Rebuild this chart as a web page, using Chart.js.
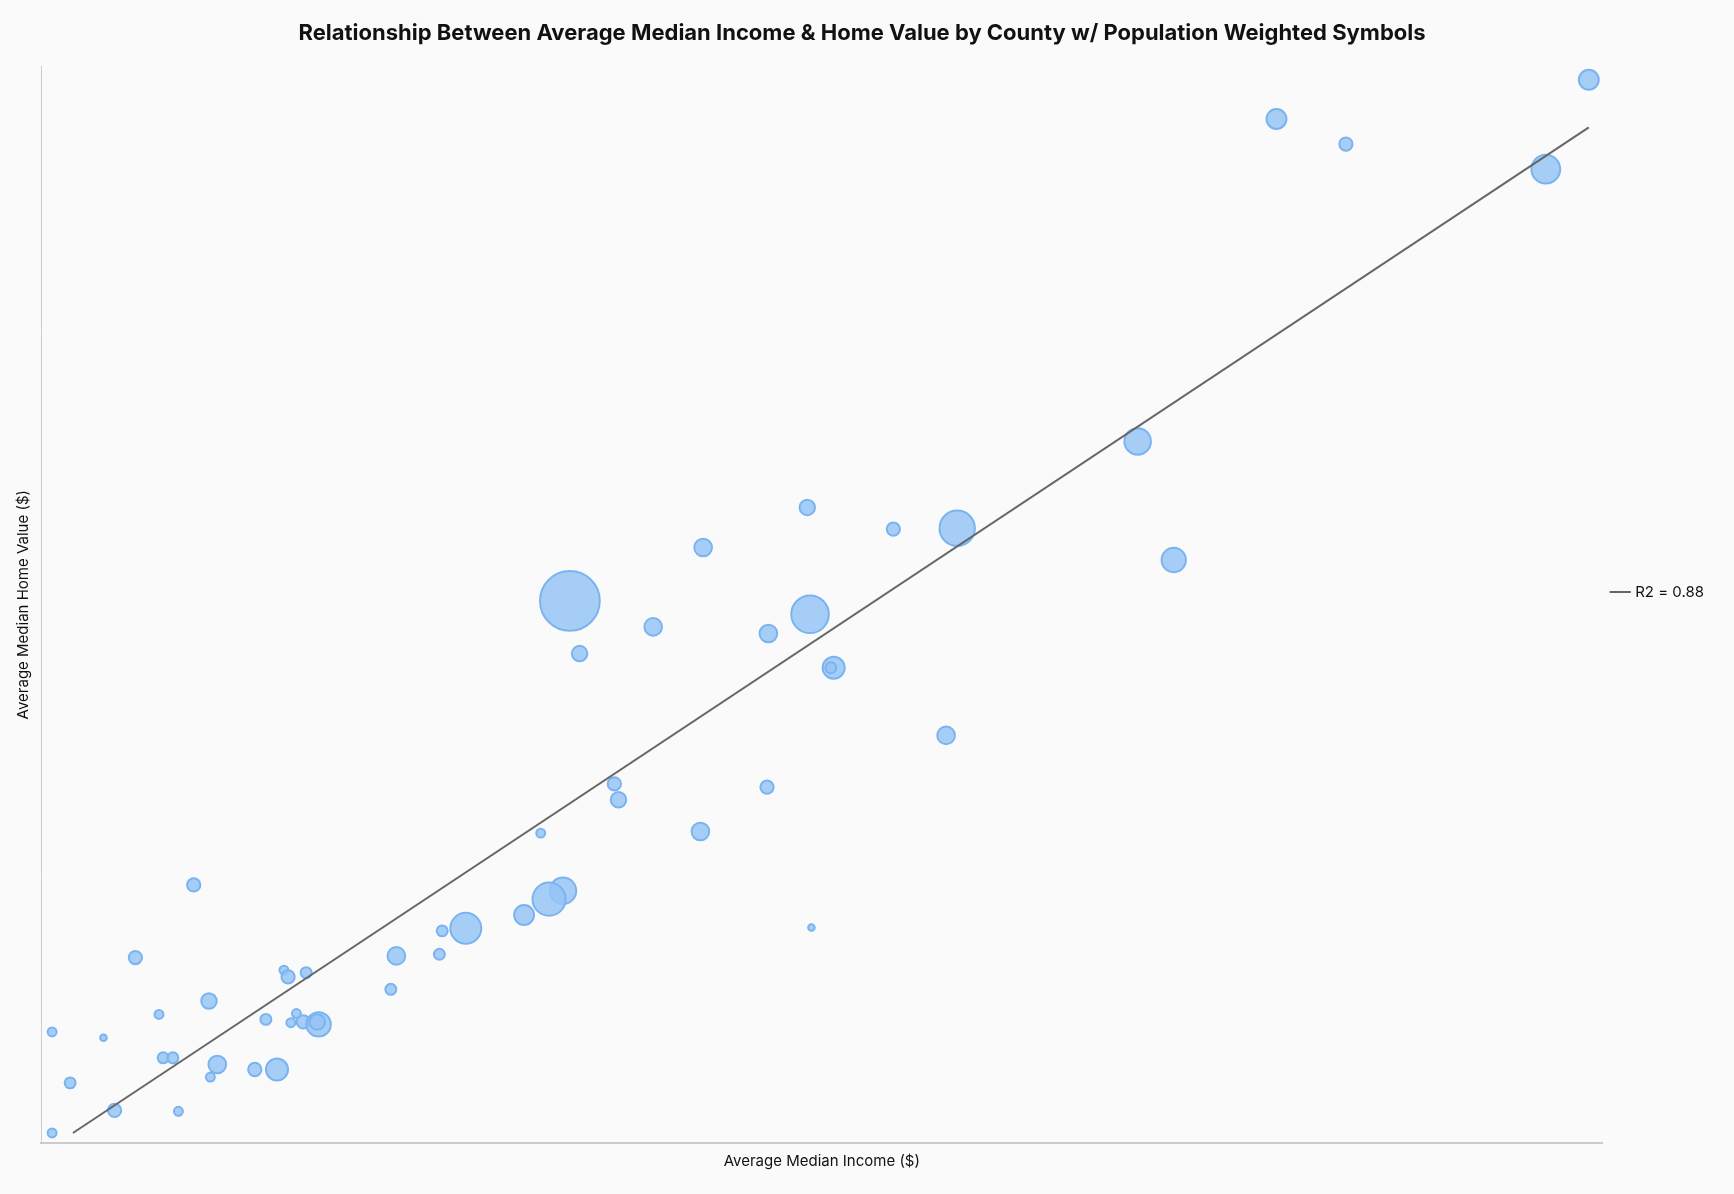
<!DOCTYPE html>
<html>
<head>
<meta charset="utf-8">
<script src="https://cdn.jsdelivr.net/npm/chart.js@4"></script>
<style>
  body { margin: 0; background: #fafafa; }
  #wrap { width: 1734px; height: 1194px; }
</style>
</head>
<body>
<div id="wrap"><canvas id="chart"></canvas></div>
<script>
// county averages
const income = [167000, 144500, 149500, 163900, 134500, 137100, 121500, 116900, 110700, 103200,
  93600, 110900, 99600, 107900, 94300, 112600, 112400, 120700, 96800, 97100,
  107800, 103000, 91500, 93100, 92100, 90300, 86100, 84400, 84200, 111000,
  81100, 80700, 66500, 62300, 67600, 73000, 73300, 74600, 64000, 73900,
  71700, 73500, 74400, 75500, 75400, 56300, 60000, 64300, 65000, 68200,
  70900, 72500, 67700, 57600, 60800, 65400, 56300];
const homeValue = [1482000, 1435000, 1405000, 1375000, 1049000, 907000, 945000, 944000, 970000, 922000,
  858000, 842000, 827000, 819000, 795000, 778000, 778000, 697000, 639000, 620000,
  635000, 582000, 580000, 511000, 501000, 482000, 466000, 463000, 435000, 467000,
  433000, 393000, 518000, 431000, 379000, 416000, 408000, 413000, 363000, 364000,
  357000, 353000, 354000, 351000, 354000, 342000, 335000, 311000, 311000, 303000,
  297000, 297000, 288000, 281000, 248000, 247000, 221000];
// population in thousands (symbol area)
const population = [99, 99, 44, 207, 176, 148, 313, 44, 60, 78,
  892, 353, 78, 78, 60, 122, 30, 78, 44, 60,
  44, 78, 20, 176, 275, 99, 240, 30, 30, 11,
  78, 30, 44, 44, 60, 20, 44, 30, 20, 20,
  30, 20, 44, 148, 60, 20, 11, 30, 30, 78,
  44, 122, 20, 30, 44, 20, 20];
const trendIncome = [57800, 167000];
const trendValue = [221000, 1425000];
const trendLabel = 'R2 = 0.88';

const bubbles = income.map((x, i) => ({ x: x, y: homeValue[i], r: Math.sqrt(population[i]) }));
const trend = trendIncome.map((x, i) => ({ x: x, y: trendValue[i] }));

const font = "'Inter', 'Liberation Sans', sans-serif";

new Chart(document.getElementById('chart'), {
  type: 'bubble',
  data: {
    datasets: [
      {
        type: 'line',
        label: trendLabel,
        data: trend,
        borderColor: '#666',
        borderWidth: 2,
        pointRadius: 0,
        fill: false
      },
      {
        label: 'Counties',
        data: bubbles,
        backgroundColor: 'rgba(150,196,245,0.85)',
        borderColor: 'rgba(122,180,240,1)',
        borderWidth: 2
      }
    ]
  },
  options: {
    responsive: true,
    maintainAspectRatio: false,
    animation: false,
    layout: { padding: { top: 10, right: 20, left: 10, bottom: 20 } },
    plugins: {
      title: {
        display: true,
        text: 'Relationship Between Average Median Income & Home Value by County w/ Population Weighted Symbols',
        color: '#111',
        font: { family: font, size: 22, weight: 'bold' },
        padding: { top: 10, bottom: 20 }
      },
      legend: {
        position: 'right',
        labels: {
          filter: (item) => item.text === trendLabel,
          usePointStyle: true,
          pointStyle: 'line',
          color: '#111',
          font: { family: font, size: 15 }
        }
      },
      tooltip: { enabled: false }
    },
    scales: {
      x: {
        type: 'linear',
        min: 55500,
        max: 168000,
        afterBuildTicks: (axis) => { axis.ticks = axis.ticks.filter(t => t.value % 10000 === 0); },
        ticks: { stepSize: 10000, color: '#111', font: { family: font, size: 10 },
          callback: (v) => v.toLocaleString('en-US') },
        grid: { display: false, drawTicks: true, tickLength: 5 },
        border: { color: '#ccc', width: 2 },
        title: { display: true, text: 'Average Median Income ($)', color: '#111',
          font: { family: font, size: 15 } }
      },
      y: {
        type: 'linear',
        min: 209000,
        max: 1498000,
        afterBuildTicks: (axis) => { axis.ticks = axis.ticks.filter(t => t.value % 100000 === 0); },
        ticks: { stepSize: 100000, color: '#111', font: { family: font, size: 10 },
          callback: (v) => v.toLocaleString('en-US') },
        grid: { color: '#d4d4d4', tickLength: 5, tickColor: '#ccc' },
        border: { color: '#ccc', width: 1, dash: [2, 3] },
        title: { display: true, text: 'Average Median Home Value ($)', color: '#111',
          font: { family: font, size: 15 } }
      }
    }
  }
});
</script>
</body>
</html>
